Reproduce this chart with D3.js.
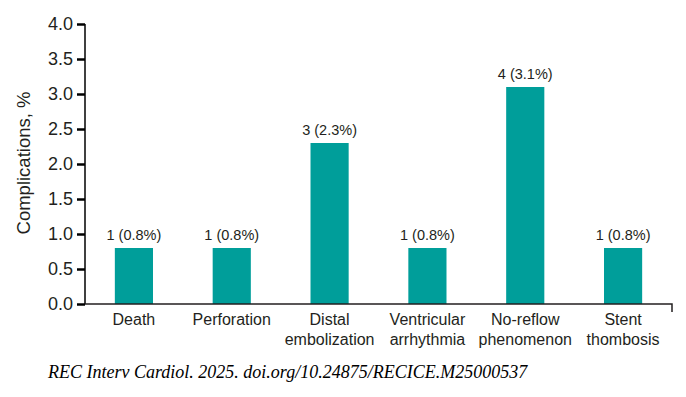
<!DOCTYPE html>
<html>
<head>
    <meta charset="UTF-8">
    <title>Complications</title>
    <script src="https://d3js.org/d3.v7.min.js"></script>
    <style type="text/css">
        body { margin: 0; background: white; }
        text { fill: #231f20; font-family: "Liberation Sans", Arial, sans-serif; }
    </style>
</head>
<body>
    <svg id="chart"></svg>

    <script>
        const categories = [["Death"], ["Perforation"], ["Distal", "embolization"],
            ["Ventricular", "arrhythmia"], ["No-reflow", "phenomenon"], ["Stent", "thombosis"]];
        const values = [0.8, 0.8, 2.3, 0.8, 3.1, 0.8];
        const valueLabels = ["1 (0.8%)", "1 (0.8%)", "3 (2.3%)", "1 (0.8%)", "4 (3.1%)", "1 (0.8%)"];
        const yTicks = [0, 0.5, 1, 1.5, 2, 2.5, 3, 3.5, 4];
        const caption = "REC Interv Cardiol. 2025. doi.org/10.24875/RECICE.M25000537";

        const width = 686, height = 397;
        const plot = { left: 85, right: 672, top: 24, bottom: 304 };
        const barColor = "#009e9a";

        const svg = d3.select("#chart")
            .attr("width", width)
            .attr("height", height);

        const x = d3.scaleBand()
            .domain(d3.range(categories.length))
            .range([plot.left, plot.right])
            .paddingInner(0.61)
            .paddingOuter(0.305);

        const y = d3.scaleLinear()
            .domain([0, 4])
            .range([plot.bottom, plot.top]);

        // bars
        svg.selectAll(".bar").data(values).enter()
            .append("rect")
            .attr("class", "bar")
            .attr("x", (d, i) => x(i))
            .attr("width", x.bandwidth())
            .attr("y", d => y(d))
            .attr("height", d => y(0) - y(d))
            .style("fill", barColor);

        // value labels
        svg.selectAll(".vlabel").data(valueLabels).enter()
            .append("text")
            .attr("class", "vlabel")
            .attr("x", (d, i) => x(i) + x.bandwidth() / 2)
            .attr("y", (d, i) => y(values[i]) - 8)
            .attr("text-anchor", "middle")
            .style("font-size", "14.5px")
            .text(d => d);

        // y axis
        const yAxis = svg.append("g")
            .attr("transform", `translate(${plot.left},0)`)
            .call(d3.axisLeft(y).tickValues(yTicks).tickFormat(d3.format(".1f")).tickSize(8).tickPadding(4));
        yAxis.attr("font-family", null).attr("font-size", null);
        yAxis.select(".domain").attr("d", `M0,${plot.top}V${plot.bottom}`).attr("stroke-width", 1.5);
        yAxis.selectAll(".tick line").attr("stroke-width", 2.5);
        yAxis.selectAll(".tick text").style("font-size", "18px").style("fill", "#231f20");

        // x axis line with end tick
        svg.append("path")
            .attr("d", `M${plot.left},${plot.bottom}H${plot.right}V${plot.bottom + 8}`)
            .attr("fill", "none")
            .attr("stroke", "#231f20")
            .attr("stroke-width", 1.5);

        // category labels
        const cat = svg.selectAll(".cat").data(categories).enter()
            .append("text")
            .attr("class", "cat")
            .attr("text-anchor", "middle")
            .style("font-size", "16px");
        cat.selectAll("tspan").data((d, i) => d.map(t => ({ t, i }))).enter()
            .append("tspan")
            .attr("x", d => x(d.i) + x.bandwidth() / 2)
            .attr("y", (d, k) => 325 + k * 20)
            .text(d => d.t);

        // y axis title
        svg.append("text")
            .attr("transform", "translate(30,163) rotate(-90)")
            .attr("text-anchor", "middle")
            .style("font-size", "18.5px")
            .text("Complications, %");

        // caption
        svg.append("text")
            .attr("x", 48)
            .attr("y", 378)
            .style("font-family", "'Liberation Serif', serif")
            .style("font-style", "italic")
            .style("font-size", "18px")
            .style("fill", "#000")
            .text(caption);
    </script>
</body>
</html>
